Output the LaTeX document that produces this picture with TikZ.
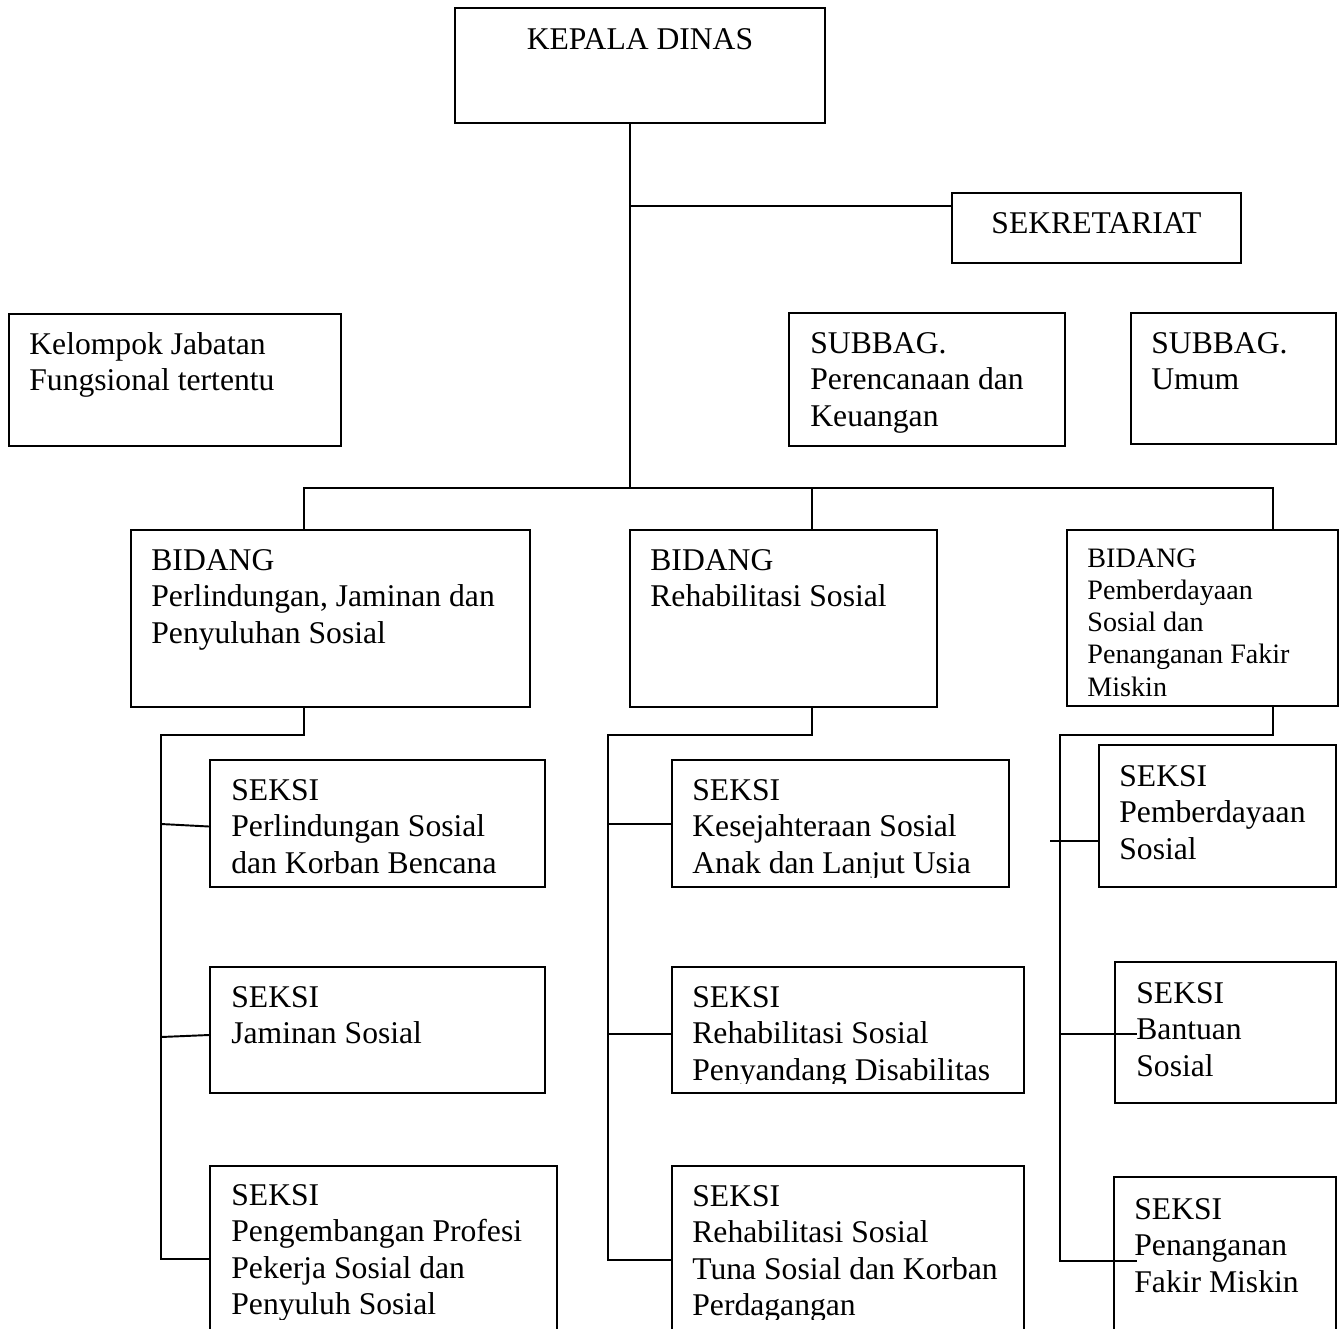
\documentclass[tikz,border=0pt]{standalone}
\usepackage{fontspec}
\setmainfont{Liberation Serif}
\usetikzlibrary{positioning,fit,calc}

\tikzset{
  orgbox/.style={draw, line width=1.1pt, inner sep=0pt},
  boxtext/.style={inner sep=0pt, align=left, font=\fontsize{18}{20.7}\selectfont},
  smalltext/.style={boxtext, font=\fontsize{16}{18.4}\selectfont},
  link/.style={line width=1.1pt}
}

\begin{document}
\begin{tikzpicture}[x=0.02cm, y=-0.02cm]
% page
\path[use as bounding box, fill=white] (0,0) rectangle (1343,1329);
\clip (0,0) rectangle (1343,1329);

% top level
\node[orgbox, fit={(455,8) (825,123)}] (kadis) {};
\node[boxtext, below=0.42cm of kadis.north] (kadis-t) {KEPALA DINAS};

\node[orgbox, fit={(952,193) (1241,263)}] (sekre) {};
\node[boxtext, below=0.41cm of sekre.north] (sekre-t) {SEKRETARIAT};

% side units
\node[orgbox, fit={(9,314) (341,446)}] (jafung) {};
\node[boxtext, below right=0.38cm and 0.42cm of jafung.north west] (jafung-t)
  {Kelompok Jabatan\\Fungsional tertentu};

\node[orgbox, fit={(789,313) (1065,446)}] (renkeu) {};
\node[boxtext, below right=0.40cm and 0.44cm of renkeu.north west] (renkeu-t)
  {SUBBAG.\\Perencanaan dan\\Keuangan};

\node[orgbox, fit={(1131,313) (1336,444)}] (umum) {};
\node[boxtext, below right=0.40cm and 0.42cm of umum.north west] (umum-t)
  {SUBBAG.\\Umum};

% bidang
\node[orgbox, fit={(131,530) (530,707)}] (bid1) {};
\node[boxtext, below right=0.40cm and 0.42cm of bid1.north west] (bid1-t)
  {BIDANG\\Perlindungan, Jaminan dan\\Penyuluhan Sosial};

\node[orgbox, fit={(630,530) (937,707)}] (bid2) {};
\node[boxtext, below right=0.40cm and 0.42cm of bid2.north west] (bid2-t)
  {BIDANG\\Rehabilitasi Sosial};

\node[orgbox, fit={(1067,530) (1338,706)}] (bid3) {};
\node[smalltext, below right=0.38cm and 0.42cm of bid3.north west] (bid3-t)
  {BIDANG\\Pemberdayaan\\Sosial dan\\Penanganan Fakir\\Miskin};

% seksi, left column
\node[orgbox, fit={(210,760) (545,887)}] (ls1) {};
\node[boxtext, below right=0.40cm and 0.44cm of ls1.north west] (ls1-t)
  {SEKSI\\Perlindungan Sosial\\dan Korban Bencana};

\node[orgbox, fit={(210,967) (545,1093)}] (ls2) {};
\node[boxtext, below right=0.40cm and 0.44cm of ls2.north west] (ls2-t)
  {SEKSI\\Jaminan Sosial};

\node[orgbox, fit={(210,1166) (557,1345)}] (ls3) {};
\coordinate (cut) at (0,1319);
\begin{scope}
  \clip (ls3.north west) rectangle (ls3.east |- cut);
  \node[boxtext, below right=0.38cm and 0.44cm of ls3.north west] (ls3-t)
    {SEKSI\\Pengembangan Profesi\\Pekerja Sosial dan\\Penyuluh Sosial};
\end{scope}

% seksi, middle column
\node[orgbox, fit={(672,760) (1009,887)}] (ms1) {};
\begin{scope}
  \clip (ms1.north west) rectangle ([yshift=0.2cm]ms1.south east);
  \node[boxtext, below right=0.40cm and 0.42cm of ms1.north west] (ms1-t)
    {SEKSI\\Kesejahteraan Sosial\\Anak dan Lanjut Usia};
\end{scope}

\node[orgbox, fit={(672,967) (1024,1093)}] (ms2) {};
\begin{scope}
  \clip (ms2.north west) rectangle ([yshift=0.2cm]ms2.south east);
  \node[boxtext, below right=0.40cm and 0.42cm of ms2.north west] (ms2-t)
    {SEKSI\\Rehabilitasi Sosial\\Penyandang Disabilitas};
\end{scope}

\node[orgbox, fit={(672,1166) (1024,1345)}] (ms3) {};
\begin{scope}
  \clip (ms3.north west) rectangle (ms3.east |- cut);
  \node[boxtext, below right=0.40cm and 0.42cm of ms3.north west] (ms3-t)
    {SEKSI\\Rehabilitasi Sosial\\Tuna Sosial dan Korban\\Perdagangan};
\end{scope}

% seksi, right column
\node[orgbox, fit={(1099,745) (1336,887)}] (rs1) {};
\node[boxtext, below right=0.42cm and 0.42cm of rs1.north west] (rs1-t)
  {SEKSI\\Pemberdayaan\\Sosial};

\node[orgbox, fit={(1115,962) (1336,1103)}] (rs2) {};
\node[boxtext, below right=0.42cm and 0.44cm of rs2.north west] (rs2-t)
  {SEKSI\\Bantuan\\Sosial};

\node[orgbox, fit={(1114,1177) (1336,1345)}] (rs3) {};
\node[boxtext, below right=0.44cm and 0.42cm of rs3.north west] (rs3-t)
  {SEKSI\\Penanganan\\Fakir Miskin};

% trunk and bus
\coordinate (trunk) at (630,488);
\coordinate (sek) at (630,206);
\coordinate (bus1) at (304,488);
\coordinate (bus2) at (812,488);
\coordinate (bus3) at (1273,488);
\draw[link] (trunk |- kadis.south) -- (trunk);
\draw[link] (sek) -- (sekre.west |- sek);
\draw[link] (bid1.north -| bus1) -- (bus1) -- (bus3) -- (bid3.north -| bus3);
\draw[link] (bus2) -- (bid2.north -| bus2);

% left column links
\coordinate (col1) at (161,735);
\coordinate (l-a) at (161,824);
\coordinate (l-b) at (161,1037);
\coordinate (l-c) at (161,1259);
\draw[link] (bid1.south -| bus1) |- (col1) -- (l-c) -- (ls3.west |- l-c);
\draw[link] (l-a) -- ([yshift=-0.06cm]ls1.west);
\draw[link] (l-b) -- ([yshift=-0.1cm]ls2.west);

% middle column links
\coordinate (col2) at (608,735);
\coordinate (m-a) at (608,824);
\coordinate (m-b) at (608,1034);
\coordinate (m-c) at (608,1260);
\draw[link] (bid2.south -| bus2) |- (col2) -- (m-c) -- (ms3.west |- m-c);
\draw[link] (m-a) -- (ms1.west |- m-a);
\draw[link] (m-b) -- (ms2.west |- m-b);

% right column links
\coordinate (col3) at (1060,735);
\coordinate (r-a) at (1050,841);
\coordinate (r-b) at (1060,1034);
\coordinate (r-c) at (1060,1261);
\draw[link] (bid3.south -| bus3) |- (col3) -- (r-c) -- ($(rs3.west |- r-c)+(24,0)$);
\draw[link] (r-a) -- (rs1.west |- r-a);
\draw[link] (r-b) -- ($(rs2.west |- r-b)+(23,0)$);
\end{tikzpicture}
\end{document}
